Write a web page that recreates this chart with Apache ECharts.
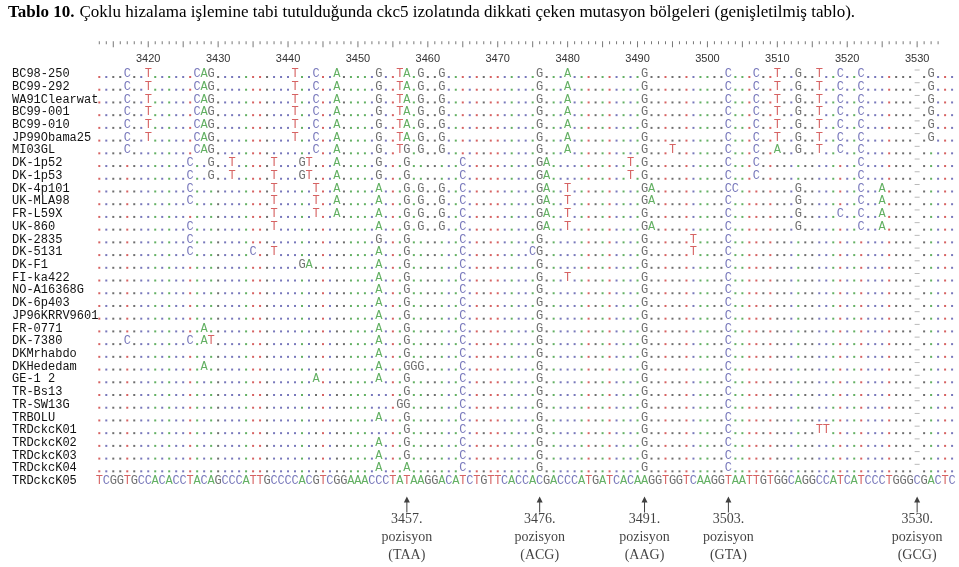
<!DOCTYPE html>
<html><head><meta charset="utf-8">
<script src="https://cdn.jsdelivr.net/npm/echarts@6/dist/echarts.min.js"></script>
<style>html,body{margin:0;padding:0;background:#fff}#c{width:959px;height:567px}</style>
</head><body><div id="c"></div>
<script>
// ---------------- DATA ----------------
const titleBold = 'Tablo 10.';
const titleRest = 'Çoklu hizalama işlemine tabi tutulduğunda ckc5 izolatında dikkati çeken mutasyon bölgeleri (genişletilmiş tablo).';

const isolates = ['BC98-250','BC99-292','WA91Clearwat','BC99-001','BC99-010','JP99Obama25','MI03GL',
  'DK-1p52','DK-1p53','DK-4p101','UK-MLA98','FR-L59X','UK-860','DK-2835','DK-5131','DK-F1',
  'FI-ka422','NO-A16368G','DK-6p403','JP96KRRV9601','FR-0771','DK-7380','DKMrhabdo','DKHededam',
  'GE-1 2','TR-Bs13','TR-SW13G','TRBOLU','TRDckcK01','TRDckcK02','TRDckcK03','TRDckcK04','TRDckcK05'];

// full sequence of the last isolate (TRDckcK05), the reference row
const referenceSequence = 'TCGGTGCCACACCTACAGCCCATTGCCCCACGTCGGAAACCCTATAAGGACATCTGTTCACCACGACCCATGATCACAAGGTGGTCAAGGTAATTGTGGCAGGCCATCATCCCTGGGCGACTC';
const firstPosition = 3413;          // alignment position of the first base
const gapPosition = 3530;            // column shown as a gap in every other isolate
const tickLabels = [3420,3430,3440,3450,3460,3470,3480,3490,3500,3510,3520,3530];
const rulerFirst = 3413, rulerLast = 3533;

// differing bases per isolate: [position, letters]
const rowBC = [[3417,'C'],[3420,'T'],[3427,'CAG'],[3441,'T'],[3444,'C'],[3447,'A'],[3453,'G'],[3456,'TA'],[3459,'G'],[3462,'G'],[3476,'G'],[3480,'A'],[3491,'G'],[3503,'C'],[3507,'C'],[3510,'T'],[3513,'G'],[3516,'T'],[3519,'C'],[3522,'C'],[3532,'G']];
const rowMI = [[3417,'C'],[3427,'CAG'],[3444,'C'],[3447,'A'],[3453,'G'],[3456,'TG'],[3459,'G'],[3462,'G'],[3476,'G'],[3480,'A'],[3491,'G'],[3495,'T'],[3503,'C'],[3507,'C'],[3510,'A'],[3513,'G'],[3516,'T'],[3519,'C'],[3522,'C']];
const rowDK1p = [[3426,'C'],[3429,'G'],[3432,'T'],[3438,'T'],[3442,'GT'],[3447,'A'],[3453,'G'],[3457,'G'],[3465,'C'],[3476,'GA'],[3489,'T'],[3491,'G'],[3503,'C'],[3507,'C'],[3522,'C']];
const rowDK4p101 = [[3426,'C'],[3438,'T'],[3444,'T'],[3447,'A'],[3453,'A'],[3457,'G'],[3459,'G'],[3462,'G'],[3465,'C'],[3476,'GA'],[3480,'T'],[3491,'GA'],[3503,'CC'],[3513,'G'],[3522,'C'],[3525,'A']];
const rowUKMLA = [[3426,'C'],[3438,'T'],[3444,'T'],[3447,'A'],[3453,'A'],[3457,'G'],[3459,'G'],[3462,'G'],[3465,'C'],[3476,'GA'],[3480,'T'],[3491,'GA'],[3503,'C'],[3513,'G'],[3522,'C'],[3525,'A']];
const rowFRL59X = [[3438,'T'],[3444,'T'],[3447,'A'],[3453,'A'],[3457,'G'],[3459,'G'],[3462,'G'],[3465,'C'],[3476,'GA'],[3480,'T'],[3491,'G'],[3503,'C'],[3513,'G'],[3519,'C'],[3522,'C'],[3525,'A']];
const rowUK860 = [[3426,'C'],[3438,'T'],[3453,'A'],[3457,'G'],[3459,'G'],[3462,'G'],[3465,'C'],[3476,'GA'],[3480,'T'],[3491,'GA'],[3503,'C'],[3513,'G'],[3522,'C'],[3525,'A']];
const rowDK2835 = [[3426,'C'],[3453,'G'],[3457,'G'],[3465,'C'],[3476,'G'],[3491,'G'],[3498,'T'],[3503,'C']];
const rowDK5131 = [[3426,'C'],[3435,'C'],[3438,'T'],[3453,'A'],[3457,'G'],[3465,'C'],[3475,'CG'],[3491,'G'],[3498,'T'],[3503,'C']];
const rowDKF1 = [[3442,'GA'],[3453,'A'],[3457,'G'],[3465,'C'],[3476,'G'],[3491,'G'],[3503,'C']];
const rowFIka = [[3453,'A'],[3457,'G'],[3465,'C'],[3476,'G'],[3480,'T'],[3491,'G'],[3503,'C']];
const rowCommon = [[3453,'A'],[3457,'G'],[3465,'C'],[3476,'G'],[3491,'G'],[3503,'C']];
const rowFR0771 = [[3428,'A'],[3453,'A'],[3457,'G'],[3465,'C'],[3476,'G'],[3491,'G'],[3503,'C']];
const rowDK7380 = [[3417,'C'],[3426,'C'],[3428,'AT'],[3453,'A'],[3457,'G'],[3465,'C'],[3476,'G'],[3491,'G'],[3503,'C']];
const rowHededam = [[3428,'A'],[3453,'A'],[3457,'GGG'],[3465,'C'],[3476,'G'],[3491,'G'],[3503,'C']];
const rowGE = [[3444,'A'],[3453,'A'],[3457,'G'],[3465,'C'],[3476,'G'],[3491,'G'],[3503,'C']];
const rowBs13 = [[3457,'G'],[3465,'C'],[3476,'G'],[3491,'G'],[3503,'C']];
const rowSW13G = [[3456,'GG'],[3465,'C'],[3476,'G'],[3491,'G'],[3503,'C']];
const rowK01 = [[3457,'G'],[3465,'C'],[3476,'G'],[3491,'G'],[3503,'C'],[3516,'TT']];
const rowK04 = [[3453,'A'],[3457,'A'],[3465,'C'],[3476,'G'],[3491,'G'],[3503,'C']];

const variants = [rowBC,rowBC,rowBC,rowBC,rowBC,rowBC,rowMI,rowDK1p,rowDK1p,rowDK4p101,rowUKMLA,rowFRL59X,
  rowUK860,rowDK2835,rowDK5131,rowDKF1,rowFIka,rowCommon,rowCommon,rowCommon,rowFR0771,rowDK7380,rowCommon,
  rowHededam,rowGE,rowBs13,rowSW13G,rowCommon,rowK01,rowCommon,rowCommon,rowK04];

const arrowPositions = [3457,3476,3491,3503,3530];
const arrowCodons = ['TAA','ACG','AAG','GTA','GCG'];

// ---------------- LAYOUT ----------------
const PX = 6.99, X0 = 3410, X1 = 3535, X_FIRST = 99.3;
const ROW = 12.72, ROW0Y = 74, YMIN = -3, YMAX = 38;
const gridLeft = X_FIRST - (firstPosition - X0) * PX;
const gridTop = ROW0Y + YMIN * ROW;
const baseColor = {A:'#3c9c3c', C:'#5656aa', G:'#4a4a4a', T:'#cc3b3b'};
const bases = ['A','C','G','T'];

const letterData = {A:[],C:[],G:[],T:[]};
const dotData = {A:[],C:[],G:[],T:[]};
const gapData = [];
const refRow = isolates.length - 1;
for (let r = 0; r < isolates.length; r++) {
  if (r === refRow) {
    for (let i = 0; i < referenceSequence.length; i++) letterData[referenceSequence[i]].push([firstPosition + i, r]);
    continue;
  }
  const vmap = {};
  variants[r].forEach(([p, s]) => { for (let k = 0; k < s.length; k++) vmap[p + k] = s[k]; });
  for (let i = 0; i < referenceSequence.length; i++) {
    const p = firstPosition + i;
    if (p === gapPosition) { gapData.push([p, r]); continue; }
    if (vmap[p]) letterData[vmap[p]].push([p, r]);
    else dotData[referenceSequence[i]].push([p, r]);
  }
}
const rulerSmall = [], rulerTall = [];
const rulerRow = (41.3 - ROW0Y) / ROW;
for (let p = rulerFirst; p <= rulerLast; p++) (p % 5 === 0 ? rulerTall : rulerSmall).push([p, rulerRow]);

const arrowRow = (504.5 - ROW0Y) / ROW;
const arrowData = arrowPositions.map((p, k) => ({value: [p, arrowRow], codon: arrowCodons[k]}));

const series = [];
bases.forEach(b => {
  series.push({type:'scatter', silent:true, symbol:'rect', symbolSize:2, symbolOffset:[0,3],
    itemStyle:{color: baseColor[b]}, data: dotData[b]});
});
bases.forEach(b => {
  series.push({type:'scatter', silent:true, symbol:'rect', symbolSize:1,
    itemStyle:{color:'rgba(0,0,0,0)'},
    label:{show:true, position:'inside', formatter: b, color: baseColor[b],
      fontFamily:'Liberation Mono', fontSize:12},
    data: letterData[b]});
});
series.push({type:'scatter', silent:true, symbol:'rect', symbolSize:[5,1], symbolOffset:[0,-4],
  itemStyle:{color:'#a8a8a8'}, data: gapData});
series.push({type:'scatter', silent:true, symbol:'rect', symbolSize:[1,3], symbolOffset:[0,1.5],
  itemStyle:{color:'#555'}, data: rulerSmall});
series.push({type:'scatter', silent:true, symbol:'rect', symbolSize:[1,6], symbolOffset:[0,3],
  itemStyle:{color:'#555'}, data: rulerTall});
series.push({type:'scatter', silent:true,
  symbol:'path://M3,0 L6,6 L3.5,6 L3.5,16 L2.5,16 L2.5,6 L0,6 Z', symbolSize:[6,16],
  itemStyle:{color:'#111'},
  label:{show:true, position:'bottom', distance:-2, lineHeight:18, fontSize:14,
    fontFamily:'Liberation Serif', color:'#111', align:'center',
    formatter: p => p.value[0] + '.\npozisyon\n(' + p.data.codon + ')'},
  data: arrowData});

const chart = echarts.init(document.getElementById('c'));
chart.setOption({
  animation:false,
  backgroundColor:'#fff',
  title:{left:3, top:-1, text:'{b|' + titleBold + '} {n|' + titleRest + '}',
    textStyle:{fontWeight:'normal', rich:{
      b:{fontFamily:'Liberation Serif', fontWeight:'bold', fontSize:17, color:'#000'},
      n:{fontFamily:'Liberation Serif', fontWeight:'normal', fontSize:17, color:'#000'}}}},
  grid:{left:gridLeft, top:gridTop, width:(X1 - X0) * PX, height:(YMAX - YMIN) * ROW},
  xAxis:{type:'value', min:X0, max:X1, position:'top', offset:-16,
    axisLine:{show:false}, axisTick:{show:false}, splitLine:{show:false},
    axisLabel:{inside:true, margin:2, customValues: tickLabels, formatter: v => String(v), fontSize:11,
      fontFamily:'Liberation Sans', color:'#333'}},
  yAxis:{type:'value', inverse:true, min:YMIN, max:YMAX,
    axisLine:{show:false}, axisTick:{show:false}, splitLine:{show:false},
    axisLabel:{customValues: isolates.map((_, i) => i), formatter: v => isolates[v],
      align:'left', margin: gridLeft - 12, fontFamily:'Liberation Mono', fontSize:12, color:'#111'}},
  series: series
});
</script></body></html>
